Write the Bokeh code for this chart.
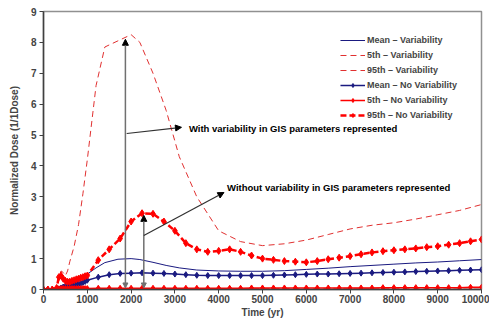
from bokeh.plotting import figure
from bokeh.models import Arrow, NormalHead, Label, Legend, LegendItem, FixedTicker, Range1d
from bokeh.embed import file_html
from bokeh.resources import INLINE

# ---------------- data ----------------
t_var = [0, 300, 350, 400, 450, 500, 550, 600, 700, 800, 900, 1000, 1200, 1400,
         1700, 2000, 2200, 2500, 2800, 3100, 3500, 4000, 4500, 5000, 5500, 6000,
         6500, 7000, 7500, 8000, 8500, 9000, 9500, 10000]
mean_var = [0, 0, 0.02, 0.05, 0.08, 0.1, 0.12, 0.15, 0.2, 0.28, 0.38, 0.5, 0.7, 0.87,
            0.98, 1.0, 0.97, 0.88, 0.78, 0.7, 0.63, 0.6, 0.59, 0.59, 0.61, 0.65,
            0.69, 0.74, 0.78, 0.82, 0.86, 0.89, 0.93, 0.97]
p5_var = [0, 0, 0.01, 0.01, 0.02, 0.02, 0.02, 0.02, 0.02, 0.02, 0.02, 0.02, 0.03, 0.03,
          0.03, 0.03, 0.03, 0.03, 0.03, 0.03, 0.03, 0.03, 0.03, 0.03, 0.03, 0.03,
          0.04, 0.04, 0.04, 0.04, 0.04, 0.05, 0.05, 0.05]
p95_var = [0, 0, 0.4, 0.6, 0.55, 0.45, 0.6, 0.9, 1.4, 2.1, 3.1, 4.2, 6.6, 7.85,
           8.05, 8.25, 8.0, 7.0, 5.8, 4.3, 3.0, 1.9, 1.55, 1.42, 1.48, 1.6,
           1.78, 1.96, 2.08, 2.16, 2.28, 2.42, 2.56, 2.75]

t_nv = [0, 100, 200, 300, 350, 400, 450, 500, 550, 600, 650, 700, 750, 800, 850, 900,
        950, 1000, 1250, 1500, 1750, 2000, 2250, 2500, 2750, 3000, 3250, 3500, 3750,
        4000, 4250, 4500, 4750, 5000, 5250, 5500, 5750, 6000, 6250, 6500, 6750, 7000,
        7250, 7500, 7750, 8000, 8250, 8500, 8750, 9000, 9250, 9500, 9750, 10000]
mean_nv = [0, 0, 0, 0, 0.02, 0.05, 0.08, 0.1, 0.1, 0.11, 0.12, 0.14, 0.16, 0.18, 0.2, 0.23,
           0.26, 0.3, 0.4, 0.48, 0.52, 0.53, 0.54, 0.53, 0.52, 0.5, 0.48, 0.46, 0.45,
           0.45, 0.45, 0.45, 0.45, 0.45, 0.46, 0.47, 0.48, 0.49, 0.5, 0.5, 0.51, 0.52,
           0.53, 0.54, 0.55, 0.56, 0.57, 0.58, 0.59, 0.6, 0.61, 0.62, 0.63, 0.64]
p5_nv = [0, 0, 0, 0, 0.02, 0.03, 0.03, 0.03, 0.03, 0.03, 0.03, 0.03, 0.03, 0.03, 0.03, 0.03,
         0.03, 0.03, 0.04, 0.04, 0.04, 0.04, 0.04, 0.04, 0.04, 0.04, 0.04, 0.04, 0.04,
         0.04, 0.04, 0.04, 0.05, 0.05, 0.05, 0.05, 0.05, 0.05, 0.05, 0.05, 0.05, 0.05,
         0.05, 0.05, 0.06, 0.06, 0.06, 0.06, 0.06, 0.06, 0.06, 0.06, 0.07, 0.07]
p95_nv = [0, 0, 0, 0.05, 0.4, 0.45, 0.35, 0.28, 0.25, 0.25, 0.28, 0.3, 0.33, 0.35, 0.38, 0.4,
          0.43, 0.45, 0.95, 1.3, 1.65, 2.2, 2.47, 2.45, 2.2, 1.9, 1.5, 1.3, 1.22,
          1.25, 1.3, 1.22, 1.1, 1.0, 0.96, 0.92, 0.9, 0.88, 0.92, 0.98, 1.03, 1.08,
          1.14, 1.2, 1.24, 1.27, 1.3, 1.33, 1.37, 1.4, 1.45, 1.5, 1.56, 1.62]

x_ticks = [0, 1000, 2000, 3000, 4000, 5000, 6000, 7000, 8000, 9000, 10000]
y_ticks = [0, 1, 2, 3, 4, 5, 6, 7, 8, 9]

labels = ["Mean – Variability", "5th – Variability", "95th – Variability",
          "Mean – No Variability", "5th – No Variability", "95th – No Variability"]

# annotation anchors (data units)
arrow1_x, arrow1_y0, arrow1_y1 = 1870, 0.05, 8.1
arrow1b = (1900, 5.05, 3150, 5.25)
text1 = ("With variability in GIS parameters represented", 3320, 5.21)
arrow2_x, arrow2_y0, arrow2_y1 = 2290, 0.05, 2.4
arrow2b = (2290, 1.75, 4120, 3.14)
text2 = ("Without variability in GIS parameters represented", 4190, 3.3)

FONT = "Liberation Sans"
NAVY = "#1a1a80"
RED = "#ff0000"
DRED = "#e03030"

p = figure(frame_width=438, frame_height=278, min_border_left=43, min_border_right=8,
           min_border_top=11, min_border_bottom=32, output_backend="svg",
           toolbar_location=None, x_range=Range1d(0, 10000), y_range=Range1d(0, 9))
p.xgrid.visible = False
p.ygrid.visible = False
p.outline_line_color = "#909090"
p.outline_line_width = 1.5
p.background_fill_color = "white"
p.border_fill_color = "white"

r_mv = p.line(t_var, mean_var, line_color=NAVY, line_width=1)
r_5v = p.line(t_var, p5_var, line_color=DRED, line_width=1, line_dash="6 4")
r_95v = p.line(t_var, p95_var, line_color=DRED, line_width=1, line_dash="6 4")

r_mn = p.line(t_nv, mean_nv, line_color=NAVY, line_width=1.5)
r_mn_s = p.scatter(t_nv, mean_nv, marker="diamond", size=6, color=NAVY)
r_5n = p.line(t_nv, p5_nv, line_color=RED, line_width=1.5)
r_5n_s = p.scatter(t_nv, p5_nv, marker="diamond", size=6, color=RED)
r_95n = p.line(t_nv, p95_nv, line_color=RED, line_width=2.5, line_dash="6 3")
r_95n_s = p.scatter(t_nv, p95_nv, marker="diamond", size=7, color=RED)

legend = Legend(items=[
    LegendItem(label=labels[0], renderers=[r_mv]),
    LegendItem(label=labels[1], renderers=[r_5v]),
    LegendItem(label=labels[2], renderers=[r_95v]),
    LegendItem(label=labels[3], renderers=[r_mn, r_mn_s]),
    LegendItem(label=labels[4], renderers=[r_5n, r_5n_s]),
    LegendItem(label=labels[5], renderers=[r_95n, r_95n_s]),
], location="top_right", border_line_color=None, background_fill_alpha=0,
    label_text_font=FONT, label_text_font_style="bold", label_text_font_size="9px",
    label_height=10, glyph_height=10, glyph_width=25, spacing=5, padding=2,
    margin=24, label_standoff=2)
p.add_layout(legend)

# arrows
gray = "#707070"
p.add_layout(Arrow(x_start=arrow1_x, y_start=arrow1_y0, x_end=arrow1_x, y_end=arrow1_y1,
                   line_color=gray, line_width=1.5,
                   start=NormalHead(size=5, fill_color=gray, line_color=gray),
                   end=NormalHead(size=6, fill_color="black", line_color="black")))
p.add_layout(Arrow(x_start=arrow1b[0], y_start=arrow1b[1], x_end=arrow1b[2], y_end=arrow1b[3],
                   line_color="#303030", line_width=1.2,
                   end=NormalHead(size=6, fill_color="black", line_color="black")))
p.add_layout(Arrow(x_start=arrow2_x, y_start=arrow2_y0, x_end=arrow2_x, y_end=arrow2_y1,
                   line_color=gray, line_width=1.5,
                   start=NormalHead(size=5, fill_color=gray, line_color=gray),
                   end=NormalHead(size=6, fill_color="black", line_color="black")))
p.add_layout(Arrow(x_start=arrow2b[0], y_start=arrow2b[1], x_end=arrow2b[2], y_end=arrow2b[3],
                   line_color="#303030", line_width=1.2,
                   end=NormalHead(size=6, fill_color="black", line_color="black")))

for txt, tx, ty in (text1, text2):
    p.add_layout(Label(x=tx, y=ty, text=txt, text_font=FONT, text_font_style="bold",
                       text_font_size="9.5px", text_baseline="middle", text_color="black"))

# axes
for ax in (p.xaxis[0], p.yaxis[0]):
    ax.major_label_text_font = FONT
    ax.major_label_text_font_style = "bold"
    ax.major_label_text_font_size = "10px"
    ax.axis_label_text_font = FONT
    ax.axis_label_text_font_style = "bold"
    ax.axis_label_text_font_size = "10px"
    ax.minor_tick_line_color = None
    ax.major_tick_in = 0
    ax.major_tick_out = 4
    ax.axis_line_color = "#404040"
    ax.axis_line_width = 1.5
    ax.major_tick_line_color = "#404040"

p.xaxis.ticker = FixedTicker(ticks=x_ticks)
p.yaxis.ticker = FixedTicker(ticks=y_ticks)
p.xaxis.axis_label = "Time (yr)"
p.yaxis.axis_label = "Normalized Dose (1/1Dose)"
p.xaxis.major_label_standoff = 1
p.xaxis.axis_label_standoff = 1
p.yaxis.major_label_standoff = 3
p.yaxis.axis_label_standoff = 8

open("out.html", "w").write(file_html(p, INLINE))
